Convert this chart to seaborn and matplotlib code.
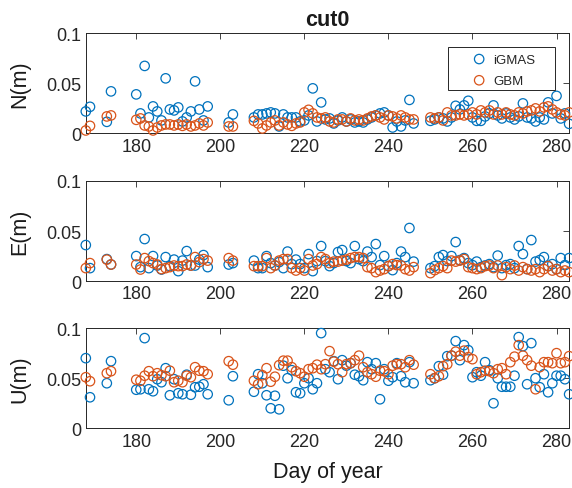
import numpy as np
import pandas as pd
import matplotlib
matplotlib.use("Agg")
import matplotlib.pyplot as plt
from matplotlib.patches import Rectangle
import seaborn as sns

# ---------------- data ----------------
days = ([168, 169, 173, 174] + list(range(180, 198)) + [202, 203]
        + list(range(208, 247)) + list(range(250, 284)))

n_igmas = [0.022, 0.0266, 0.0116, 0.042,
           0.039, 0.020, 0.0674, 0.016, 0.027, 0.022, 0.013, 0.055, 0.024, 0.023, 0.026, 0.012, 0.016, 0.022, 0.052, 0.024, 0.013, 0.027,
           0.011, 0.019,
           0.016, 0.019, 0.019, 0.020, 0.021, 0.020, 0.007, 0.019, 0.016, 0.016, 0.016, 0.012, 0.013, 0.018, 0.045, 0.012,
           0.031, 0.014, 0.015, 0.010, 0.013, 0.016, 0.012, 0.014, 0.011, 0.012, 0.011, 0.014, 0.016, 0.018, 0.020, 0.021, 0.018, 0.006, 0.012, 0.007, 0.013, 0.0335, 0.010,
           0.0126, 0.014, 0.016, 0.015, 0.012, 0.016, 0.0276, 0.024, 0.028, 0.0326, 0.016, 0.0126, 0.0126, 0.017, 0.020, 0.028, 0.018, 0.015, 0.020, 0.016,
           0.014, 0.017, 0.030, 0.016, 0.015, 0.012, 0.016, 0.014, 0.031, 0.020, 0.0375, 0.015, 0.020, 0.0096]
n_gbm = [0.003, 0.0076, 0.017, 0.018,
         0.0136, 0.015, 0.008, 0.007, 0.003, 0.006, 0.008, 0.009, 0.009, 0.008, 0.009, 0.0076, 0.009, 0.007, 0.008, 0.010, 0.008, 0.011,
         0.007, 0.007,
         0.0126, 0.010, 0.005, 0.008, 0.011, 0.013, 0.008, 0.011, 0.009, 0.0076, 0.010, 0.011, 0.021, 0.0236, 0.020, 0.016,
         0.015, 0.016, 0.012, 0.011, 0.014, 0.014, 0.012, 0.015, 0.013, 0.014, 0.013, 0.015, 0.017, 0.018, 0.016, 0.014, 0.018, 0.017, 0.015, 0.018, 0.016, 0.014, 0.014,
         0.016, 0.015, 0.016, 0.013, 0.021, 0.018, 0.018, 0.019, 0.018, 0.019, 0.021, 0.019, 0.023, 0.021, 0.023, 0.019, 0.021, 0.019, 0.021, 0.019,
         0.018, 0.021, 0.020, 0.022, 0.023, 0.025, 0.022, 0.026, 0.027, 0.024, 0.021, 0.019, 0.018, 0.021]

e_igmas = [0.036, 0.013, 0.022, 0.0166,
           0.025, 0.014, 0.042, 0.013, 0.025, 0.0156, 0.0116, 0.024, 0.015, 0.0215, 0.010, 0.0205, 0.030, 0.0156, 0.0156, 0.0215, 0.026, 0.014,
           0.0166, 0.018,
           0.0205, 0.013, 0.013, 0.025, 0.018, 0.0156, 0.019, 0.013, 0.0295, 0.017, 0.0215, 0.017, 0.013, 0.027, 0.010, 0.020,
           0.035, 0.020, 0.015, 0.018, 0.029, 0.031, 0.020, 0.018, 0.035, 0.022, 0.020, 0.0295, 0.024, 0.037, 0.016, 0.025, 0.015, 0.011, 0.018, 0.0295, 0.024, 0.053, 0.0195,
           0.013, 0.015, 0.024, 0.026, 0.020, 0.025, 0.039, 0.021, 0.023, 0.018, 0.016, 0.0195, 0.014, 0.0156, 0.017, 0.014, 0.0255, 0.013, 0.016, 0.017,
           0.013, 0.035, 0.027, 0.012, 0.041, 0.0195, 0.021, 0.024, 0.015, 0.017, 0.012, 0.023, 0.016, 0.023]
e_gbm = [0.013, 0.018, 0.0215, 0.0166,
         0.0166, 0.0116, 0.023, 0.020, 0.018, 0.0166, 0.012, 0.013, 0.014, 0.0156, 0.015, 0.015, 0.0166, 0.0156, 0.024, 0.019, 0.022, 0.0205,
         0.023, 0.0205,
         0.015, 0.015, 0.015, 0.023, 0.013, 0.0156, 0.0205, 0.022, 0.022, 0.013, 0.0106, 0.013, 0.0106, 0.022, 0.0156, 0.017,
         0.024, 0.022, 0.018, 0.0195, 0.0195, 0.0205, 0.0215, 0.023, 0.024, 0.024, 0.023, 0.014, 0.013, 0.009, 0.0106, 0.012, 0.015, 0.017, 0.016, 0.0156, 0.012, 0.0106, 0.014,
         0.008, 0.011, 0.013, 0.015, 0.013, 0.0205, 0.0195, 0.0205, 0.022, 0.014, 0.013, 0.012, 0.013, 0.015, 0.0156, 0.013, 0.0156, 0.006, 0.014, 0.012,
         0.0156, 0.0106, 0.014, 0.012, 0.0106, 0.012, 0.009, 0.012, 0.015, 0.0106, 0.012, 0.009, 0.0106, 0.009]

u_igmas = [0.070, 0.031, 0.045, 0.067,
           0.0385, 0.039, 0.090, 0.039, 0.037, 0.049, 0.046, 0.060, 0.033, 0.049, 0.035, 0.034, 0.0535, 0.0335, 0.041, 0.0415, 0.044, 0.034,
           0.028, 0.052,
           0.0365, 0.054, 0.045, 0.033, 0.020, 0.0325, 0.019, 0.0625, 0.050, 0.058, 0.036, 0.035, 0.045, 0.050, 0.039, 0.045,
           0.095, 0.059, 0.056, 0.067, 0.049, 0.068, 0.0625, 0.065, 0.0535, 0.052, 0.048, 0.066, 0.059, 0.065, 0.029, 0.059, 0.0475, 0.051, 0.065, 0.052, 0.046, 0.066, 0.045,
           0.048, 0.050, 0.062, 0.0535, 0.072, 0.0725, 0.087, 0.068, 0.083, 0.078, 0.051, 0.056, 0.0525, 0.066, 0.058, 0.025, 0.050, 0.0415, 0.0415, 0.0415,
           0.0525, 0.091, 0.082, 0.044, 0.085, 0.050, 0.041, 0.054, 0.036, 0.045, 0.0525, 0.0525, 0.049, 0.034]
u_gbm = [0.051, 0.047, 0.055, 0.057,
         0.0485, 0.0475, 0.0525, 0.057, 0.052, 0.055, 0.053, 0.052, 0.0575, 0.046, 0.0475, 0.046, 0.0525, 0.051, 0.061, 0.0575, 0.057, 0.054,
         0.067, 0.0635,
         0.0475, 0.044, 0.053, 0.060, 0.0465, 0.0515, 0.063, 0.0675, 0.0675, 0.061, 0.057, 0.055, 0.0515, 0.059, 0.060, 0.0635,
         0.059, 0.064, 0.077, 0.0665, 0.064, 0.056, 0.064, 0.065, 0.068, 0.0725, 0.061, 0.056, 0.054, 0.0515, 0.0575, 0.057, 0.054, 0.0625, 0.064, 0.064, 0.061, 0.068, 0.0635,
         0.054, 0.050, 0.052, 0.062, 0.064, 0.0725, 0.0765, 0.0725, 0.0775, 0.071, 0.069, 0.054, 0.056, 0.0575, 0.057, 0.055, 0.059, 0.060, 0.054, 0.066,
         0.0715, 0.083, 0.0725, 0.068, 0.0625, 0.039, 0.061, 0.066, 0.066, 0.065, 0.075, 0.065, 0.066, 0.072]

series_names = ["iGMAS", "GBM"]
panel_labels = ["N(m)", "E(m)", "U(m)"]
xticks = [180, 200, 220, 240, 260, 280]
yticks = [0, 0.05, 0.1]
ytick_labels = ["0", "0.05", "0.1"]
title = "cut0"
xlabel = "Day of year"

# ---------------- style ----------------
sns.set_theme(style="white")
plt.rcParams["font.family"] = ["Liberation Sans", "DejaVu Sans"]
axis_col = "#262626"
colors = ["#0072BD", "#D95319"]

fig = plt.figure(figsize=(5.72, 4.89), dpi=100)
positions = [[0.150, 0.725, 0.845, 0.205],
             [0.150, 0.423, 0.845, 0.205],
             [0.150, 0.122, 0.845, 0.205]]
panel_data = [(n_igmas, n_gbm), (e_igmas, e_gbm), (u_igmas, u_gbm)]

for i, (pos, (a, b), lab) in enumerate(zip(positions, panel_data, panel_labels)):
    ax = fig.add_axes(pos)
    df = pd.DataFrame({"day": days * 2,
                       "val": list(a) + list(b),
                       "src": [series_names[0]] * len(days) + [series_names[1]] * len(days)})
    for name, col in zip(series_names, colors):
        sub = df[df["src"] == name]
        sns.scatterplot(data=sub, x="day", y="val", ax=ax, marker="o", s=46,
                        facecolor="none", edgecolor=col, linewidth=0.9,
                        label=name, clip_on=False, zorder=3)
    ax.set_xlim(168, 283)
    ax.set_ylim(0, 0.1)
    ax.set_xticks(xticks)
    ax.set_xticklabels([str(t) for t in xticks])
    ax.set_yticks(yticks)
    ax.set_yticklabels(ytick_labels)
    ax.tick_params(direction="in", length=4, width=0.6, colors=axis_col,
                   labelsize=13, top=True, right=True, pad=3)
    for sp in ax.spines.values():
        sp.set_visible(True)
        sp.set_color(axis_col)
        sp.set_linewidth(0.7)
    ax.set_ylabel(lab, fontsize=15.5, color="#1a1a1a")
    ax.yaxis.set_label_coords(-0.114, 0.5)
    ax.set_xlabel("")
    if i == 0:
        ax.set_title(title, fontsize=15.5, fontweight="bold", pad=6, color="#1a1a1a")
        leg = ax.legend(loc="upper left", bbox_to_anchor=(0.792, 0.80),
                        fontsize=9.5, frameon=False, borderpad=0,
                        handletextpad=0.25, labelspacing=0.68, handlelength=1.6,
                        borderaxespad=0)
        ax.add_patch(Rectangle((0.7495, 0.43), 0.2215, 0.43, transform=ax.transAxes,
                               facecolor="white", edgecolor=axis_col, linewidth=0.7,
                               zorder=4, clip_on=False))
        leg.set_zorder(5)
    else:
        if ax.get_legend():
            ax.get_legend().remove()
    if i == 2:
        ax.set_xlabel(xlabel, fontsize=15.5, color="#1a1a1a")
        ax.xaxis.set_label_coords(0.5, -0.33)

fig.savefig("out.png", dpi=100)
